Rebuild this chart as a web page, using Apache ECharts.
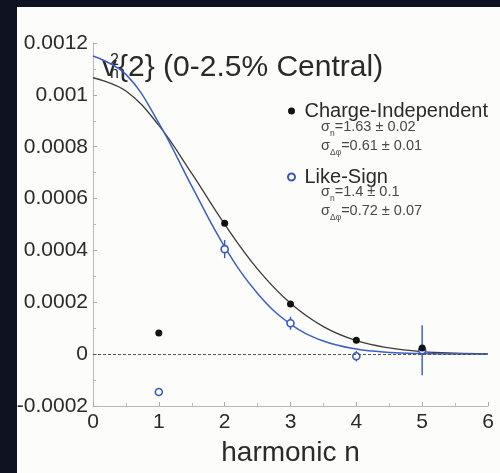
<!DOCTYPE html>
<html>
<head>
<meta charset="utf-8">
<script src="https://cdn.jsdelivr.net/npm/echarts@6/dist/echarts.min.js"></script>
<style>
html,body{margin:0;padding:0;background:#fcfcfa;}
#chart{width:500px;height:473px;}
</style>
</head>
<body>
<div id="chart"></div>
<script>
// ---- data ----
const harmonics = [1, 2, 3, 4, 5];
const chargeIndependent = [0.000082, 0.000505, 0.000193, 0.000054, 0.000024];
const likeSign = [-0.000146, 0.000405, 0.000119, -0.000008, 0.000015];
const likeSignErr = [0.000015, 0.000035, 0.000025, 0.00002, 0.000096];

// fit curves at half-integer steps
const fitN = [0, 0.5, 1, 1.5, 2, 2.5, 3, 3.5, 4, 4.5, 5, 5.5, 6];
const chargeIndependentFit = [0.001066, 0.001015, 0.000882, 0.000697, 0.000501, 0.000328, 0.000196, 0.000106, 0.000052, 0.000024, 0.0000096, 0.0000036, 0.0000012];
const likeSignFit = [0.00115, 0.001079, 0.000891, 0.000648, 0.000414, 0.000234, 0.000116, 0.0000505, 0.0000194, 0.0000066, 0.000002, 0.0000005, 0.0000001];

const xTicks = [0, 1, 2, 3, 4, 5, 6];
const yTicks = [-0.0002, 0, 0.0002, 0.0004, 0.0006, 0.0008, 0.001, 0.0012];

const legendNames = ['Charge-Independent', 'Like-Sign'];
const sigmaCI = ['1.63 ± 0.02', '0.61 ± 0.01'];
const sigmaLS = ['1.4 ± 0.1', '0.72 ± 0.07'];

const FONT = 'Liberation Sans, Arial, Helvetica, sans-serif';
const TXT = '#2a2a2a';
const BLUE = '#3656c4';

const chart = echarts.init(document.getElementById('chart'));

function sigmaText(sub, val) {
  return '{m|σ}{s|' + sub + '}{m|=' + val + '}';
}
const sigmaRich = {
  m: { fontSize: 14.5, lineHeight: 17, fontFamily: FONT, fill: '#484848', verticalAlign: 'middle' },
  s: { fontSize: 8.5, lineHeight: 8, fontFamily: FONT, fill: '#484848', verticalAlign: 'bottom', padding: [0, 0, -3, 0] }
};

const option = {
  backgroundColor: '#fcfcfa',
  animation: false,
  grid: { left: 93, right: 12, top: 43, bottom: 67 },
  xAxis: {
    type: 'value',
    min: xTicks[0], max: xTicks[xTicks.length - 1], interval: 1,
    name: 'harmonic n',
    nameLocation: 'middle',
    nameGap: 33,
    nameTextStyle: { fontSize: 28, color: TXT, fontFamily: FONT },
    axisLine: { show: true, onZero: false, lineStyle: { color: '#b8b8b8', width: 1 } },
    axisTick: { show: true, inside: true, length: 4, lineStyle: { color: '#aaa' } },
    minorTick: { show: true, splitNumber: 2, length: 3, lineStyle: { color: '#bbb' } },
    axisLabel: { fontSize: 21, color: TXT, fontFamily: FONT, margin: 6 },
    splitLine: { show: false }
  },
  yAxis: {
    type: 'value',
    min: yTicks[0], max: yTicks[yTicks.length - 1], interval: 0.0002,
    axisLine: { show: true, onZero: false, lineStyle: { color: '#b8b8b8', width: 1 } },
    axisTick: { show: true, inside: true, length: 4, lineStyle: { color: '#aaa' } },
    minorTick: { show: true, splitNumber: 2, length: 3, lineStyle: { color: '#bbb' } },
    axisLabel: {
      fontSize: 21, color: TXT, fontFamily: FONT, margin: 5,
      formatter: v => String(+v.toFixed(4))
    },
    splitLine: { show: false }
  },
  legend: {
    data: legendNames,
    orient: 'vertical',
    left: 282, top: 96,
    itemWidth: 16, itemHeight: 7,
    itemGap: 46,
    textStyle: { fontSize: 20, color: TXT, fontFamily: FONT },
    selectedMode: false
  },
  series: [
    {
      name: 'CI fit', type: 'line', smooth: 0.4, showSymbol: false, z: 2,
      data: fitN.map((n, i) => [n, chargeIndependentFit[i]]),
      lineStyle: { color: '#3c3c3c', width: 1.3 }, silent: true
    },
    {
      name: 'LS fit', type: 'line', smooth: 0.4, showSymbol: false, z: 2,
      data: fitN.map((n, i) => [n, likeSignFit[i]]),
      lineStyle: { color: '#3f5fc8', width: 1.5 }, silent: true,
      markLine: {
        silent: true, symbol: 'none', label: { show: false },
        lineStyle: { color: '#555', width: 1.2, type: [3, 2] },
        data: [{ yAxis: 0 }]
      }
    },
    {
      name: 'LS err', type: 'custom', z: 3,
      data: harmonics.map((n, i) => [n, likeSign[i], likeSignErr[i]]),
      renderItem: (params, api) => {
        const x = api.value(0), y = api.value(1), e = api.value(2);
        const p1 = api.coord([x, y + e]);
        const p2 = api.coord([x, y - e]);
        return { type: 'line', shape: { x1: p1[0], y1: p1[1], x2: p2[0], y2: p2[1] },
                 style: { stroke: BLUE, lineWidth: 1.4 } };
      }
    },
    {
      name: 'Like-Sign', type: 'scatter', z: 4,
      symbol: 'circle', symbolSize: 7,
      data: harmonics.map((n, i) => [n, likeSign[i]]),
      itemStyle: { color: '#ffffff', borderColor: BLUE, borderWidth: 1.6, opacity: 1 }
    },
    {
      name: 'Charge-Independent', type: 'scatter', z: 5,
      symbol: 'circle', symbolSize: 7,
      data: harmonics.map((n, i) => [n, chargeIndependent[i]]),
      itemStyle: { color: '#111111', opacity: 1 }
    }
  ],
  graphic: [
    // title  v_n^2{2} (0-2.5% Central)
    { type: 'text', left: 102, top: 53, style: { text: 'v', fontSize: 30, fontFamily: FONT, fill: TXT } },
    { type: 'text', left: 110, top: 53, style: { text: '2', fontSize: 16, fontFamily: FONT, fill: TXT } },
    { type: 'text', left: 110, top: 66, style: { text: 'n', fontSize: 16, fontFamily: FONT, fill: TXT } },
    { type: 'text', left: 118, top: 53, style: { text: '{2} (0-2.5% Central)', fontSize: 30, fontFamily: FONT, fill: TXT } },
    // sigma annotations
    { type: 'text', left: 321, top: 119, style: { text: sigmaText('n', sigmaCI[0]), rich: sigmaRich } },
    { type: 'text', left: 321, top: 138, style: { text: sigmaText('Δφ', sigmaCI[1]), rich: sigmaRich } },
    { type: 'text', left: 321, top: 184, style: { text: sigmaText('n', sigmaLS[0]), rich: sigmaRich } },
    { type: 'text', left: 321, top: 203, style: { text: sigmaText('Δφ', sigmaLS[1]), rich: sigmaRich } },
    // dark frame (top and left)
    { type: 'rect', left: 0, top: 0, z: 100, shape: { width: 500, height: 7 }, style: { fill: '#0f1321' } },
    { type: 'rect', left: 0, top: 0, z: 100, shape: { width: 17, height: 473 }, style: { fill: '#0f1321' } }
  ]
};
chart.setOption(option);
</script>
</body>
</html>
